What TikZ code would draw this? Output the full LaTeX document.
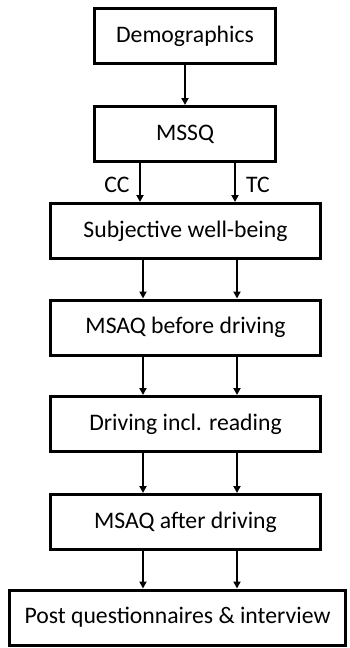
\documentclass[tikz,border=0pt]{standalone}
\usepackage{fontspec}
\setmainfont{Carlito}
\usetikzlibrary{arrows.meta}

\tikzset{
  stagebox/.style={rectangle, draw=black, line width=3pt, fill=white,
    minimum height=55pt, inner sep=0pt, font=\fontsize{23.7}{28}\selectfont},
  flow/.style={->, line width=2pt},
  grouplabel/.style={font=\fontsize{23.7}{28}\selectfont, inner sep=0pt}
}

\begin{document}
\begin{tikzpicture}[x=1pt, y=-1pt, >={Triangle[length=7pt,width=7pt]}]
        \useasboundingbox (0,0) rectangle (349,648);
        \node (demo) at (185,36) [stagebox, minimum width=181pt] {Demographics};
        \node (mssq) at (185,134) [stagebox, minimum width=181pt] {MSSQ};
        \node (swb) at (185.5,231) [stagebox, minimum width=270pt] {Subjective well-being};
        \node (pre) at (185.5,327.5) [stagebox, minimum width=270pt] {MSAQ before driving};
        \node (drive) at (185.5,424) [stagebox, minimum width=270pt] {Driving incl. reading};
        \node (post) at (185.5,522) [stagebox, minimum width=270pt] {MSAQ after driving};
        \node (final) at (177.5,617.5) [stagebox, minimum width=336pt] {Post questionnaires \& interview};
        \node (cc) at (117,185) [grouplabel] {CC};
        \node (tc) at (258,185) [grouplabel] {TC};
        \draw[flow] (demo)--(mssq);
        \draw[flow] ([xshift=-45pt]mssq.south)--([xshift=-45.5pt]swb.north);
        \draw[flow] ([xshift=50pt]mssq.south)--([xshift=49.5pt]swb.north);
        \draw[flow] ([xshift=-42.5pt]swb.south)--([xshift=-42.5pt]pre.north);
        \draw[flow] ([xshift=51.5pt]swb.south)--([xshift=51.5pt]pre.north);
        \draw[flow] ([xshift=-42.5pt]pre.south)--([xshift=-42.5pt]drive.north);
        \draw[flow] ([xshift=51.5pt]pre.south)--([xshift=51.5pt]drive.north);
        \draw[flow] ([xshift=-42.5pt]drive.south)--([xshift=-42.5pt]post.north);
        \draw[flow] ([xshift=51.5pt]drive.south)--([xshift=51.5pt]post.north);
        \draw[flow] ([xshift=-42.5pt]post.south)--([xshift=-34.5pt]final.north);
        \draw[flow] ([xshift=51.5pt]post.south)--([xshift=59.5pt]final.north);

    \end{tikzpicture}
\end{document}
